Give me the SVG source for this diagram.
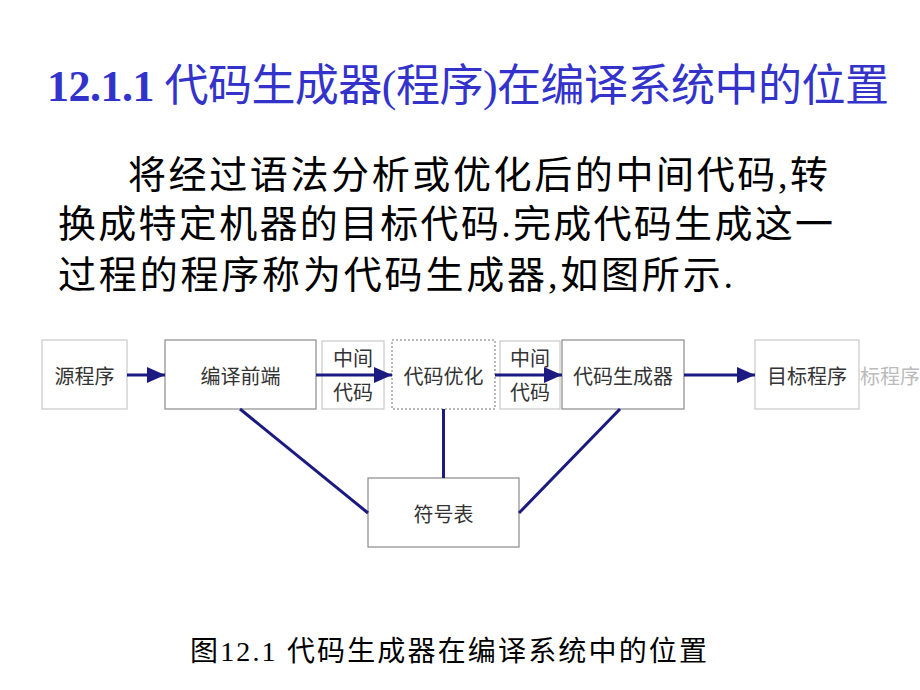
<svg xmlns="http://www.w3.org/2000/svg" width="920" height="690" viewBox="0 0 920 690">
<defs>
<style>
.title{font-family:"Liberation Serif","Noto Sans CJK SC",serif;fill:#3333cc;font-size:44px}
.b{font-weight:bold}
.body{font-family:"Liberation Serif","Noto Sans CJK SC",serif;fill:#000;font-size:38px}
.cap{font-family:"Liberation Serif","Noto Sans CJK SC",serif;fill:#000;font-size:28px}
.box{fill:#fff;stroke:#8a8a8a;stroke-width:1.2}
.lbox{fill:#fff;stroke:#c8c8c8;stroke-width:1.2}
.dbox{fill:#fff;stroke:#777;stroke-width:1;stroke-dasharray:2,2}
.lbl{font-family:"Noto Sans CJK SC",sans-serif;font-size:20px;fill:#333;text-anchor:middle;dominant-baseline:central}
.ghost{font-family:"Noto Sans CJK SC",sans-serif;font-size:20px;fill:#bbb;dominant-baseline:central}
.conn{stroke:#1a1a80;stroke-width:3;fill:none}
</style>
<marker id="ah" viewBox="0 0 18 16" refX="18" refY="8" markerWidth="18" markerHeight="16" markerUnits="userSpaceOnUse" orient="auto">
<path d="M0,0 L18,8 L0,16 z" fill="#1a1a80"/>
</marker>
</defs>
<rect width="920" height="690" fill="#fff"/>
<text class="title" x="47" y="101" textLength="842" lengthAdjust="spacing"><tspan class="b">12.1.1</tspan> 代码生成器(程序)在编译系统中的位置</text>
<text class="body" x="128" y="188" textLength="700" lengthAdjust="spacing">将经过语法分析或优化后的中间代码,转</text>
<text class="body" x="58" y="237" textLength="775" lengthAdjust="spacing">换成特定机器的目标代码.完成代码生成这一</text>
<text class="body" x="58" y="288" textLength="675" lengthAdjust="spacing">过程的程序称为代码生成器,如图所示.</text>

<g id="n-src"><rect class="lbox" x="42" y="340" width="85" height="69"/><text class="lbl" x="84.5" y="375">源程序</text></g>
<g id="n-front"><rect class="box" x="165" y="340" width="151" height="69"/><text class="lbl" x="240.5" y="375">编译前端</text></g>
<g id="n-mid1"><rect class="lbox" x="322" y="341" width="62" height="68"/><text class="lbl" x="353" y="357">中间</text><text class="lbl" x="353" y="391">代码</text></g>
<g id="n-opt"><rect class="dbox" x="392" y="340" width="103" height="69"/><text class="lbl" x="443.5" y="375">代码优化</text></g>
<g id="n-mid2"><rect class="lbox" x="500" y="341" width="60" height="68"/><text class="lbl" x="530" y="357">中间</text><text class="lbl" x="530" y="391">代码</text></g>
<g id="n-gen"><rect class="box" x="562" y="340" width="122" height="69"/><text class="lbl" x="623" y="375">代码生成器</text></g>
<g id="n-tgt"><rect class="lbox" x="755" y="340" width="104" height="69"/><text class="lbl" x="807" y="375">目标程序</text><text class="ghost" x="860" y="375">标程序</text></g>
<g id="n-sym"><rect class="box" x="368" y="478" width="151" height="69"/><text class="lbl" x="443.5" y="513">符号表</text></g>

<g id="connectors">
<line class="conn" x1="127" y1="375" x2="165" y2="375" marker-end="url(#ah)"/>
<line class="conn" x1="316" y1="375" x2="392" y2="375" marker-end="url(#ah)"/>
<line class="conn" x1="495" y1="375" x2="562" y2="375" marker-end="url(#ah)"/>
<line class="conn" x1="684" y1="375" x2="755" y2="375" marker-end="url(#ah)"/>
<line class="conn" x1="240" y1="409" x2="368" y2="513"/>
<line class="conn" x1="443.5" y1="409" x2="443.5" y2="478"/>
<line class="conn" x1="620" y1="409" x2="519" y2="513"/>
</g>

<text class="cap" x="190" y="661" textLength="517" lengthAdjust="spacing">图12.1 代码生成器在编译系统中的位置</text>
</svg>
